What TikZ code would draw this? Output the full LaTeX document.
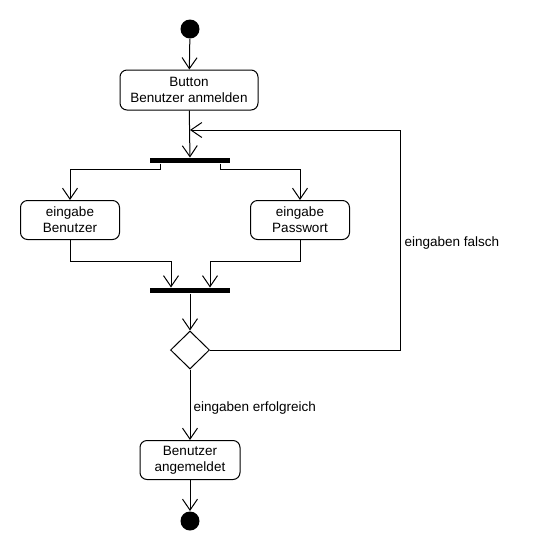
\documentclass[tikz,border=0pt]{standalone}
\usepackage{fontspec}
\setmainfont{Liberation Sans}
\usetikzlibrary{arrows.meta,shapes.geometric}
\begin{document}
\begin{tikzpicture}[x=1pt,y=-1pt,
  font=\fontsize{13.5}{16}\selectfont,
  line width=1pt,
  arr/.style={-{Straight Barb[length=11pt,width=15pt,line width=1pt]}},
  action/.style={draw,rounded corners=7pt,align=center,inner sep=0pt,
    minimum height=39pt},
  bar/.style={fill=black,draw=none,inner sep=0pt,minimum width=80pt,minimum height=5pt},
  initial/.style={circle,fill=black,draw=none,inner sep=0pt,minimum size=19pt},
  decision/.style={diamond,draw,inner sep=0pt,minimum width=39pt,minimum height=38pt},
  guard/.style={inner sep=0pt}]
\useasboundingbox (0,0) rectangle (540,550);
\fill[white] (0,0) rectangle (540,550);

\node[initial] (start) at (190,29) {};
\node[action,minimum width=138pt,minimum height=40pt] (btn) at (189,90) {Button\\Benutzer anmelden};
\node[bar] (fork) at (190,160.5) {};
\node[action,minimum width=99pt] (eb) at (70,220) {eingabe\\Benutzer};
\node[action,minimum width=99pt] (ep) at (300,220) {eingabe\\Passwort};
\node[bar] (join) at (190,290.5) {};
\node[decision] (dec) at (190,350) {};
\node[action,minimum width=100pt] (ba) at (190,460) {Benutzer\\angemeldet};
\node[initial] (end) at (190,521) {};

\coordinate (lr) at (400,350);
\coordinate (lt) at (400,130);
\coordinate (lj) at (190,130);

\draw[arr] (start) -- (btn);
\draw[arr] (btn) -- (fork);
\draw[arr] (dec.east) -- (lr) -- (lt) -- (lj);
\node[guard,anchor=west] (falsch) at (404,243) {eingaben falsch};

\draw[arr] ([xshift=-30pt]fork.south) -- ++(0,6) -| (eb.north);
\draw[arr] ([xshift=30pt]fork.south) -- ++(0,6) -| (ep.north);
\draw[arr] (eb.south) -- ++(0,21) -| ([xshift=-19pt]join.north);
\draw[arr] (ep.south) -- ++(0,21) -| ([xshift=20pt]join.north);
\draw[arr] (join) -- (dec);
\draw[arr] (dec) -- node[guard,anchor=west,xshift=3pt,yshift=-3pt] (ok) {eingaben erfolgreich} (ba);
\draw[arr] (ba) -- (end);
\end{tikzpicture}
\end{document}
